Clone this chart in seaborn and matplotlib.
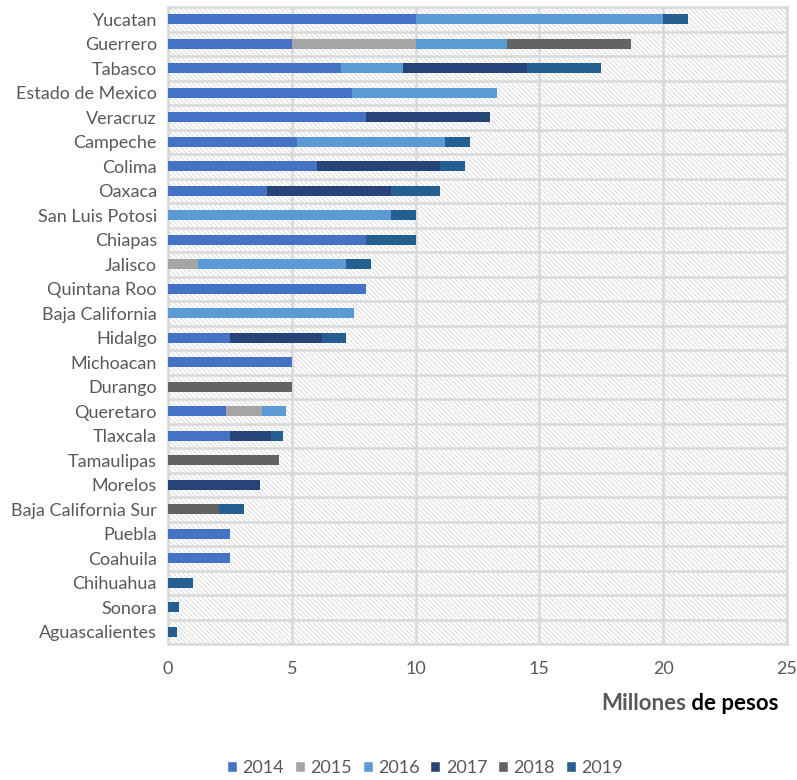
"""
Inversion por estado, barras horizontales apiladas por anio.
"""

import matplotlib
matplotlib.use('Agg')
import matplotlib.pyplot as plt
from matplotlib.patches import Patch, Rectangle
import numpy as np
import pandas as pd
import seaborn as sns

states = ['Yucatan', 'Guerrero', 'Tabasco', 'Estado de Mexico', 'Veracruz',
          'Campeche', 'Colima', 'Oaxaca', 'San Luis Potosi', 'Chiapas',
          'Jalisco', 'Quintana Roo', 'Baja California', 'Hidalgo',
          'Michoacan', 'Durango', 'Queretaro', 'Tlaxcala', 'Tamaulipas',
          'Morelos', 'Baja California Sur', 'Puebla', 'Coahuila',
          'Chihuahua', 'Sonora', 'Aguascalientes']

years = ['2014', '2015', '2016', '2017', '2018', '2019']

v2014 = [10, 5, 7, 7.45, 8, 5.2, 6, 4, 0, 8, 0, 8, 0, 2.5, 5, 0, 2.35, 2.5,
         0, 0, 0, 2.5, 2.5, 0, 0, 0]
v2015 = [0, 5, 0, 0, 0, 0, 0, 0, 0, 0, 1.2, 0, 0, 0, 0, 0, 1.45, 0,
         0, 0, 0, 0, 0, 0, 0, 0]
v2016 = [10, 3.7, 2.5, 5.85, 0, 6, 0, 0, 9, 0, 6, 0, 7.5, 0, 0, 0, 0.95, 0,
         0, 0, 0, 0, 0, 0, 0, 0]
v2017 = [0, 0, 5, 0, 5, 0, 5, 5, 0, 0, 0, 0, 0, 3.7, 0, 0, 0, 1.65,
         0, 3.7, 0, 0, 0, 0, 0, 0]
v2018 = [0, 5, 0, 0, 0, 0, 0, 0, 0, 0, 0, 0, 0, 0, 0, 5, 0, 0,
         4.5, 0, 2.05, 0, 0, 0, 0, 0]
v2019 = [1, 0, 3, 0, 0, 1, 1, 2, 1, 2, 1, 0, 0, 1, 0, 0, 0, 0.5,
         0, 0, 1, 0, 0, 1, 0.45, 0.35]

colors = ['#4472C4', '#A5A5A5', '#5B9BD5', '#264478', '#636363', '#255E91']

text_gray = '#595959'
grid_gray = '#D9D9D9'

df = pd.DataFrame({'state': states, '2014': v2014, '2015': v2015,
                   '2016': v2016, '2017': v2017, '2018': v2018,
                   '2019': v2019})
cum = df[years].cumsum(axis=1)

sns.set_style('white')
plt.rcParams['font.family'] = ['Lato', 'DejaVu Sans']
plt.rcParams['hatch.linewidth'] = 0.7

fig = plt.figure(figsize=(7.97, 7.8), dpi=100)
ax = fig.add_axes([168 / 797, 1 - 644 / 780, 619 / 797, 637 / 780])

# hatched plot area (light diagonal lines)
ax.add_patch(Rectangle((0, 0), 1, 1, transform=ax.transAxes,
                       facecolor='white', edgecolor='#DADADA', linewidth=0,
                       hatch='\\' * 7, zorder=0))

# stacked bars: draw cumulative totals from the last year back to the first
for year, color in reversed(list(zip(years, colors))):
    sns.barplot(x=cum[year], y=df['state'], orient='h', color=color,
                width=0.42, saturation=1, linewidth=0, ax=ax, zorder=3)

ax.set_xlim(0, 25)
ax.set_ylim(25.5, -0.5)
ax.set_xticks(np.arange(0, 26, 5))
ax.set_yticks(np.arange(len(states) - 1) + 0.5, minor=True)
ax.grid(axis='x', which='major', color=grid_gray, linewidth=1.8)
ax.grid(axis='y', which='minor', color=grid_gray, linewidth=1.8)
ax.grid(axis='y', which='major', visible=False)
ax.set_axisbelow(True)
ax.set_xlabel('')
ax.set_ylabel('')
ax.tick_params(axis='both', which='both', length=0, labelsize=13,
               colors=text_gray)
ax.tick_params(axis='x', pad=12)
ax.tick_params(axis='y', pad=8)
for spine in ax.spines.values():
    spine.set_color(grid_gray)
    spine.set_linewidth(1.8)

# axis title in two colours
t1 = fig.text(601 / 797, 1 - 703 / 780, 'Millones', color=text_gray,
              fontsize=16, fontweight='bold', va='center', ha='left')
ax.annotate(' de pesos', xy=(1, 0), xycoords=t1, va='bottom', ha='left',
            color='black', fontsize=16, fontweight='bold')

handles = [Patch(facecolor=c, label=y) for y, c in zip(years, colors)]
fig.legend(handles=handles, loc='center', ncol=6, frameon=False,
           bbox_to_anchor=(425 / 797, 1 - 768 / 780), fontsize=13,
           handlelength=0.55, handleheight=0.55, handletextpad=0.3,
           columnspacing=0.6, labelcolor=text_gray)

fig.savefig('out.png', dpi=100)
